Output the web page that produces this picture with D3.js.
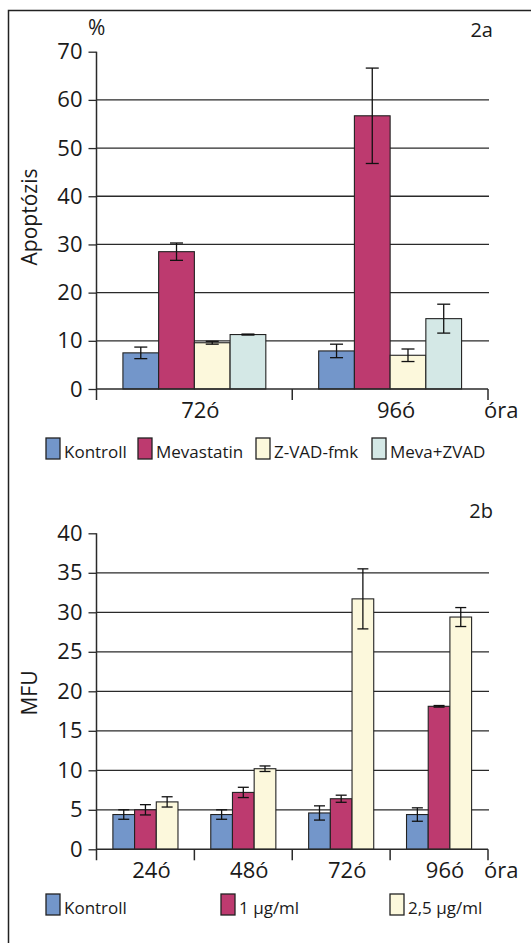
<!DOCTYPE html>
<html>
<head>
<meta charset="utf-8">
<script src="https://cdn.jsdelivr.net/npm/d3@7"></script>
<style>
  body { margin: 0; background: #fff; }
  svg { display: block; font-family: "Open Sans", sans-serif; fill: #1a1a1a; }
</style>
</head>
<body>
<div id="chart"></div>
<script>
// --- chart 2a: apoptosis (%)
const catsA = ['72ó', '96ó'];
const seriesA = ['Kontroll', 'Mevastatin', 'Z-VAD-fmk', 'Meva+ZVAD'];
const valuesA = [
    [7.5, 28.5, 9.6, 11.3],   // 72ó
    [7.9, 56.7, 7.0, 14.6]    // 96ó
];
const errorsA = [
    [1.2, 1.8, 0.3, 0.1],
    [1.4, 9.9, 1.3, 3.0]
];
const ticksA = [0, 10, 20, 30, 40, 50, 60, 70];

// --- chart 2b: MFU
const catsB = ['24ó', '48ó', '72ó', '96ó'];
const seriesB = ['Kontroll', '1 μg/ml', '2,5 μg/ml'];
const valuesB = [
    [4.4, 5.0, 6.0],
    [4.4, 7.2, 10.2],
    [4.6, 6.4, 31.7],
    [4.4, 18.1, 29.4]
];
const errorsB = [
    [0.6, 0.65, 0.65],
    [0.6, 0.65, 0.35],
    [0.9, 0.45, 3.8],
    [0.85, 0.1, 1.2]
];
const ticksB = [0, 5, 10, 15, 20, 25, 30, 35, 40];

const colorsA = ['#7396ca', '#bd3a6f', '#fcf8dc', '#d4e8e6'];
const colorsB = ['#7396ca', '#bd3a6f', '#fcf8dc'];

const W = 531, H = 943;
const svg = d3.select('#chart').append('svg')
    .attr('width', W)
    .attr('height', H);

// outer frame (runs off the right and bottom edge)
svg.append('rect')
    .attr('x', 8.5).attr('y', 10.5)
    .attr('width', 560).attr('height', 960)
    .attr('fill', 'none')
    .attr('stroke', '#222')
    .attr('stroke-width', 1.5);

const ink = '#2a2a2a';

function drawChart(cfg) {
    const g = svg.append('g');

    const x0 = d3.scaleBand()
        .domain(cfg.cats)
        .range([cfg.left, cfg.right])
        .paddingInner(0).paddingOuter(0);
    const bw = x0.bandwidth();
    const x1 = d3.scaleBand()
        .domain(cfg.series)
        .range([bw * cfg.groupPad, bw * (1 - cfg.groupPad)])
        .paddingInner(0);
    const y = d3.scaleLinear()
        .domain([0, d3.max(cfg.ticks)])
        .range([cfg.bottom, cfg.top]);

    // gridlines (not at 0 or top)
    g.selectAll('.grid')
        .data(cfg.ticks.filter(t => t > 0 && t < d3.max(cfg.ticks)))
        .enter()
        .append('line')
        .attr('x1', cfg.left).attr('x2', cfg.right + 1)
        .attr('y1', d => y(d)).attr('y2', d => y(d))
        .attr('stroke', ink)
        .attr('stroke-width', 1.3);

    // y axis
    const yAxis = d3.axisLeft(y)
        .tickValues(cfg.ticks)
        .tickSize(8)
        .tickPadding(6)
        .tickFormat(d3.format('d'));
    const ya = g.append('g')
        .attr('transform', `translate(${cfg.left},0)`)
        .call(yAxis);
    ya.select('.domain').remove();
    ya.selectAll('line').attr('stroke', ink).attr('stroke-width', 1.3);
    ya.selectAll('text')
        .attr('fill', '#1a1a1a')
        .style('font-size', '22px')
        .style('font-family', '"Open Sans", sans-serif');
    g.append('line')
        .attr('x1', cfg.left).attr('x2', cfg.left)
        .attr('y1', y(d3.max(cfg.ticks))).attr('y2', cfg.bottom + 11)
        .attr('stroke', ink).attr('stroke-width', 1.5);

    // bars
    const groups = g.selectAll('.grp')
        .data(cfg.values)
        .enter()
        .append('g')
        .attr('transform', (d, i) => `translate(${x0(cfg.cats[i])},0)`);

    groups.selectAll('rect')
        .data((d, i) => d.map((v, j) => ({ v: v, e: cfg.errors[i][j], s: j })))
        .enter()
        .append('rect')
        .attr('x', d => x1(cfg.series[d.s]))
        .attr('y', d => y(d.v))
        .attr('width', x1.bandwidth())
        .attr('height', d => y(0) - y(d.v))
        .attr('fill', d => cfg.colors[d.s])
        .attr('stroke', '#222')
        .attr('stroke-width', 1.1);

    // error bars
    const err = groups.selectAll('.err')
        .data((d, i) => d.map((v, j) => ({ v: v, e: cfg.errors[i][j], s: j })))
        .enter()
        .append('g')
        .attr('stroke', '#111')
        .attr('stroke-width', 1.3);
    const cx = d => x1(cfg.series[d.s]) + x1.bandwidth() / 2;
    err.append('line')
        .attr('x1', cx).attr('x2', cx)
        .attr('y1', d => y(d.v + d.e)).attr('y2', d => y(d.v - d.e));
    err.append('line')
        .attr('x1', d => cx(d) - cfg.cap).attr('x2', d => cx(d) + cfg.cap)
        .attr('y1', d => y(d.v + d.e)).attr('y2', d => y(d.v + d.e));
    err.append('line')
        .attr('x1', d => cx(d) - cfg.cap).attr('x2', d => cx(d) + cfg.cap)
        .attr('y1', d => y(d.v - d.e)).attr('y2', d => y(d.v - d.e));

    // x axis line and ticks at band edges
    g.append('line')
        .attr('x1', cfg.left).attr('x2', cfg.right)
        .attr('y1', cfg.bottom).attr('y2', cfg.bottom)
        .attr('stroke', ink).attr('stroke-width', 1.5);
    const edges = cfg.cats.map(c => x0(c)).concat([cfg.right]);
    g.selectAll('.xtick')
        .data(edges.slice(1))
        .enter()
        .append('line')
        .attr('x1', d => d).attr('x2', d => d)
        .attr('y1', cfg.bottom).attr('y2', cfg.bottom + 11)
        .attr('stroke', ink).attr('stroke-width', 1.5);

    g.selectAll('.xlabel')
        .data(cfg.cats)
        .enter()
        .append('text')
        .attr('x', d => x0(d) + bw / 2 + 6)
        .attr('y', cfg.bottom + 29)
        .attr('text-anchor', 'middle')
        .style('font-size', '22px')
        .text(d => d);

    g.append('text')
        .attr('x', cfg.right - 4)
        .attr('y', cfg.bottom + 29)
        .style('font-size', '22px')
        .text('óra');

    // corner label and y label
    g.append('text')
        .attr('x', 493)
        .attr('y', cfg.top - 15)
        .attr('text-anchor', 'end')
        .style('font-size', '20px')
        .text(cfg.tag);

    g.append('text')
        .attr('transform', `translate(37,${cfg.yLabelY}) rotate(-90)`)
        .attr('text-anchor', 'middle')
        .style('font-size', '21px')
        .text(cfg.yLabel);

    // legend
    const leg = g.selectAll('.leg')
        .data(cfg.series)
        .enter()
        .append('g')
        .attr('transform', (d, i) => `translate(${cfg.legendX[i]},${cfg.legendY})`);
    leg.append('rect')
        .attr('x', 0).attr('y', 0)
        .attr('width', 14).attr('height', 21)
        .attr('fill', (d, i) => cfg.colors[i])
        .attr('stroke', '#222')
        .attr('stroke-width', 1.3);
    leg.append('text')
        .attr('x', 18)
        .attr('y', 20)
        .style('font-size', '17px')
        .text(d => d);
}

drawChart({
    cats: catsA, series: seriesA, values: valuesA, errors: errorsA,
    ticks: ticksA, colors: colorsA,
    left: 96.5, right: 488, top: 51.7, bottom: 389,
    groupPad: 0.135, cap: 6.5,
    tag: '2a', yLabel: 'Apoptózis', yLabelY: 217,
    legendX: [46, 138, 256, 372], legendY: 438
});

svg.append('text')
    .attr('x', 88)
    .attr('y', 35)
    .style('font-size', '21px')
    .text('%');

drawChart({
    cats: catsB, series: seriesB, values: valuesB, errors: errorsB,
    ticks: ticksB, colors: colorsB,
    left: 96.5, right: 488, top: 533.3, bottom: 849.3,
    groupPad: 0.1675, cap: 5.5,
    tag: '2b', yLabel: 'MFU', yLabelY: 693,
    legendX: [46, 221, 390], legendY: 894
});
</script>
</body>
</html>
